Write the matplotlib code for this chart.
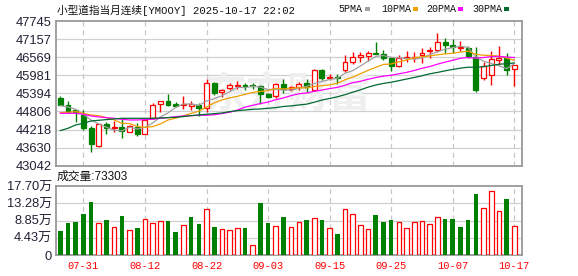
import matplotlib
matplotlib.use("Agg")
import matplotlib.pyplot as plt
from matplotlib.patches import Rectangle

W, H = 578, 276

# daily OHLC, index 0 = 07-28 ... index 59 = 10-17
opens = [
    45232, 45016, 44840, 44691, 44258, 43695, 44388, 44280, 44301, 44150,
    44312, 44085, 44583, 45059, 45146, 45048, 45016, 44994, 45016, 44929,
    45731, 45427, 45557, 45644, 45666, 45677, 45644, 45362, 45297, 45688,
    45536, 45612, 45720, 45503, 46153, 45882, 45926, 46164, 46424, 46586,
    46619, 46694, 46662, 46532, 46294, 46554, 46554, 46651, 46770, 46814,
    47052, 46965, 46868, 46879, 46586, 45882, 45991, 46489, 46532, 46175,
]
highs = [
    45308, 45146, 44900, 44853, 44334, 44410, 44453, 44496, 44604, 44366,
    44420, 44583, 45070, 45146, 45373, 45102, 45319, 45146, 45081, 45861,
    45774, 45536, 45720, 45796, 45720, 45741, 45666, 45395, 45720, 45861,
    45633, 45774, 45861, 46186, 46186, 46012, 46012, 46640, 46727, 46749,
    46770, 47074, 46803, 46554, 46640, 46770, 46727, 46857, 46911, 47344,
    47182, 47160, 47095, 46922, 46900, 46424, 46770, 46922, 46694, 46316,
]
lows = [
    45000, 44778, 44450, 44204, 43478, 43662, 44063, 44150, 43933, 44128,
    44020, 44063, 44561, 44778, 44994, 44940, 44886, 44853, 44669, 44799,
    45341, 45287, 45503, 45536, 45503, 45536, 45037, 45254, 45254, 45395,
    45471, 45503, 45427, 45471, 45828, 45828, 45698, 46077, 46337, 46424,
    46446, 46662, 46478, 46121, 46262, 46424, 46424, 46370, 46532, 46749,
    46694, 46694, 46770, 46532, 45427, 45828, 45666, 46316, 45991, 45633,
]
closes = [
    45016, 44799, 44790, 44280, 43738, 44388, 44258, 44312, 44171, 44345,
    44085, 44529, 45016, 45146, 45016, 44994, 45059, 45037, 44908, 45720,
    45395, 45514, 45666, 45666, 45633, 45644, 45362, 45287, 45688, 45536,
    45590, 45687, 45590, 46153, 45882, 45915, 45882, 46402, 46575, 46640,
    46694, 46662, 46532, 46294, 46554, 46586, 46586, 46694, 46814, 47052,
    46965, 46890, 46900, 46619, 45503, 46294, 46500, 46532, 46153, 46316,
]

ma5 = [
    44994, 44951, 44875, 44713, 44525, 44399, 44291, 44195, 44173, 44295,
    44234, 44288, 44429, 44624, 44758, 44940, 45046, 45050, 45003, 45144,
    45224, 45315, 45441, 45592, 45575, 45625, 45594, 45518, 45523, 45503,
    45493, 45558, 45618, 45711, 45780, 45845, 45884, 46047, 46131, 46283,
    46439, 46595, 46621, 46564, 46547, 46526, 46510, 46543, 46647, 46746,
    46822, 46883, 46924, 46885, 46575, 46441, 46363, 46290, 46196, 46359,
]
ma10 = [
    44767, 44778, 44799, 44745, 44691, 44669, 44604, 44529, 44420, 44410,
    44317, 44290, 44312, 44399, 44527, 44587, 44667, 44740, 44814, 44951,
    45082, 45181, 45246, 45298, 45360, 45425, 45455, 45480, 45558, 45539,
    45559, 45576, 45568, 45617, 45642, 45669, 45721, 45833, 45921, 46032,
    46142, 46240, 46334, 46348, 46415, 46483, 46553, 46582, 46606, 46647,
    46674, 46697, 46734, 46766, 46661, 46632, 46623, 46607, 46541, 46467,
]
ma20 = [
    44745, 44745, 44745, 44713, 44658, 44626, 44604, 44583, 44550, 44529,
    44529, 44540, 44550, 44583, 44604, 44637, 44658, 44669, 44680, 44681,
    44700, 44736, 44779, 44849, 44944, 45006, 45061, 45110, 45186, 45245,
    45321, 45379, 45407, 45458, 45501, 45547, 45588, 45657, 45740, 45786,
    45851, 45908, 45951, 45983, 46029, 46076, 46137, 46208, 46264, 46340,
    46408, 46469, 46534, 46557, 46538, 46558, 46588, 46595, 46574, 46557,
]
ma30 = [
    44182, 44258, 44366, 44420, 44496, 44518, 44540, 44561, 44583, 44583,
    44583, 44583, 44583, 44594, 44604, 44615, 44637, 44669, 44691, 44713,
    44734, 44756, 44799, 44832, 44853, 44875, 44886, 44908, 44929, 44967,
    44986, 45016, 45042, 45105, 45176, 45227, 45281, 45351, 45431, 45508,
    45595, 45666, 45716, 45755, 45806, 45859, 45910, 45965, 46029, 46073,
    46125, 46171, 46212, 46244, 46239, 46262, 46299, 46341, 46356, 46382,
]

# volume in 万
volumes = [
    6.24, 8.21, 8.55, 10.52, 13.60, 8.21, 8.98, 7.10, 10.00, 6.41,
    6.93, 9.15, 8.21, 8.72, 8.81, 5.90, 7.61, 9.75, 7.95, 11.71,
    7.18, 6.58, 6.41, 6.84, 6.93, 2.48, 13.34, 8.21, 7.35, 9.75,
    7.10, 8.47, 8.98, 9.41, 8.98, 6.84, 5.39, 11.71, 10.43, 7.61,
    6.58, 10.26, 8.47, 8.98, 8.47, 6.84, 8.47, 8.72, 7.95, 9.75,
    9.23, 9.23, 7.18, 8.98, 15.65, 11.97, 16.33, 11.29, 14.37, 7.33,
]
vol_dir = "ggggg" + "rgrgrgrrrggrggrgrrrgrggrg" + "rrgrgrgrrrrgggrrrrrrgggggrrrgr"

tick_pos = [3, 11, 19, 27, 35, 43, 51, 59]
tick_dates = ["07-31", "08-12", "08-22", "09-03", "09-15", "09-25", "10-07", "10-17"]
price_ticks = [43042, 43630, 44218, 44806, 45394, 45981, 46569, 47157, 47745]
vol_ticks = [0, 4.43, 8.85, 13.28, 17.70]
vol_labels = ["0", "4.43万", "8.85万", "13.28万", "17.70万"]

RED = "#ff0000"
GREEN = "#008000"
GRID = "#d0d0d0"
BORDER = "#999999"
LABEL = "#222236"
CJK = ["Liberation Sans", "Noto Sans CJK SC"]
MONO = ["Liberation Mono", "Noto Sans CJK SC"]

fig = plt.figure(figsize=(W / 100, H / 100), dpi=100)
ax = fig.add_axes([56 / W, 1 - 165.7 / H, 466 / W, 144.7 / H])
axv = fig.add_axes([56 / W, 1 - 255 / H, 466 / W, 69 / H])

xlim = (-0.56, 60.0)

for a in (ax, axv):
    a.set_xlim(*xlim)
    for s in a.spines.values():
        s.set_color(BORDER)
        s.set_linewidth(1.3)
    for p in tick_pos:
        a.axvline(p, color="#c8c8c8", lw=0.9, dashes=(4, 3), zorder=0)

# watermark
ax.text(29.5, 45350, "东方财富", fontsize=30, fontweight="bold", color="#efefef",
        ha="center", va="center", family=["Noto Sans CJK SC"], zorder=0.5)

# price panel
ax.set_ylim(price_ticks[0], price_ticks[-1])
for v in price_ticks[1:-1]:
    ax.axhline(v, color=GRID, lw=0.9, zorder=0)

n = len(closes)
xs = list(range(n))
bw = 0.64
for i in xs:
    o, h, l, c = opens[i], highs[i], lows[i], closes[i]
    up = c >= o
    col = RED if up else GREEN
    ax.vlines(i, l, h, color=col, lw=1.0, zorder=2)
    bottom = min(o, c)
    height = max(abs(c - o), 8)
    ax.add_patch(Rectangle((i - bw / 2, bottom), bw, height,
                           facecolor="white" if up else GREEN,
                           edgecolor=col, lw=0.9, zorder=3))

ax.plot(xs, ma5, color="#a0a0a0", lw=0.9, zorder=4)
ax.plot(xs, ma10, color="#f0a000", lw=0.9, zorder=4)
ax.plot(xs, ma20, color="#ff00ff", lw=0.9, zorder=4)
ax.plot(xs, ma30, color="#006a30", lw=0.9, zorder=4)

ax.set_yticks(price_ticks)
ax.set_yticklabels([str(v) for v in price_ticks], fontsize=9.3, color=LABEL, family=CJK)
ax.tick_params(axis="y", length=0, pad=3)
ax.set_xticks([])

# volume panel
axv.set_ylim(0, vol_ticks[-1])
for v in vol_ticks[1:-1]:
    axv.axhline(v, color=GRID, lw=0.9, zorder=0)
vw = 0.6
for i in xs:
    if vol_dir[i] == "r":
        axv.bar(i, volumes[i], width=vw, facecolor="white", edgecolor=RED, lw=0.9, zorder=3)
    else:
        axv.bar(i, volumes[i], width=vw, color=GREEN, lw=0, zorder=3)
axv.set_yticks(vol_ticks)
axv.set_yticklabels(vol_labels, fontsize=9.3, color=LABEL, family=CJK)
axv.tick_params(axis="y", length=0, pad=3)
axv.set_xticks(tick_pos)
axv.set_xticklabels(tick_dates, fontsize=7.5, color=RED, family=MONO)
axv.tick_params(axis="x", length=0, pad=4)

# title and legend
fig.text(57 / W, 1 - 10 / H, "小型道指当月连续[YMOOY] 2025-10-17 22:02",
         fontsize=7.7, color="#111111", va="center", ha="left", family=MONO)
fig.text(57 / W, 1 - 177 / H, "成交量:73303",
         fontsize=8.5, color="#111111", va="center", ha="left", family=CJK)

legend_items = [
    ("5PMA", 338, 365, "#a0a0a0"),
    ("10PMA", 381, 413, "#f0a000"),
    ("20PMA", 426, 458, "#ff00ff"),
    ("30PMA", 472, 504, "#006a30"),
]
for label, tx, sx, col in legend_items:
    fig.text(tx / W, 1 - 9.5 / H, label, fontsize=7.2, color="#111111",
             va="center", ha="left", family=MONO)
    fig.patches.append(Rectangle((sx / W, 1 - 10.5 / H), 5 / W, 3 / H,
                                 facecolor=col, edgecolor="none",
                                 transform=fig.transFigure, figure=fig))

fig.savefig("out.png", dpi=100)
